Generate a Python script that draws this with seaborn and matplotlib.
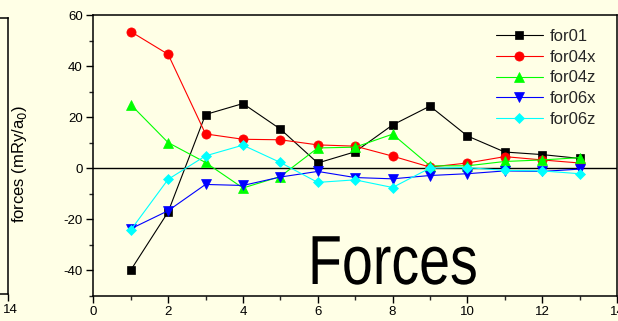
import matplotlib
matplotlib.use("Agg")
import matplotlib.pyplot as plt
from matplotlib.ticker import MultipleLocator
from matplotlib.patheffects import AbstractPathEffect
from matplotlib.transforms import Affine2D, ScaledTranslation
import seaborn as sns
import pandas as pd

sns.set_theme(style="ticks")
plt.rcParams['font.family'] = ['Liberation Sans', 'DejaVu Sans']
plt.rcParams['axes.unicode_minus'] = False

# ---- data ----
steps = [1, 2, 3, 4, 5, 6, 7, 8, 9, 10, 11, 12, 13]
for01 = [-40.0, -17.2, 21.0, 25.3, 15.3, 2.0, 6.4, 16.9, 24.3, 12.6, 6.3, 5.3, 3.8]
for04x = [53.5, 44.6, 13.4, 11.3, 11.1, 9.1, 8.6, 4.7, 0.4, 2.0, 4.5, 3.2, 2.0]
for04z = [24.9, 10.0, 2.2, -7.8, -3.3, 7.9, 8.2, 13.3, 0.9, 0.9, 2.6, 3.2, 4.1]
for06x = [-23.8, -16.7, -6.4, -6.8, -3.5, -1.3, -3.7, -4.2, -2.9, -2.2, -1.1, -1.3, -0.4]
for06z = [-24.3, -4.4, 4.8, 9.0, 2.2, -5.6, -4.6, -7.6, 0.0, 0.2, -0.9, -1.1, -2.2]
series_names = ["for01", "for04x", "for04z", "for06x", "for06z"]
series_values = [for01, for04x, for04z, for06x, for06z]
x_ticks = [0, 2, 4, 6, 8, 10, 12, 14]
y_ticks = [-40, -20, 0, 20, 40, 60]
left_panel_ticks = [14]
y_label = "forces (mRy/a$_0$)"
big_title = "Forces"

colors = ["#000000", "#FF0000", "#00FF00", "#0000FF", "#00FFFF"]
markers = ["s", "o", "^", "v", "D"]
msizes = [5.6, 6.6, 7.2, 7.2, 5.6]

bg = "#FFFFE6"
W, H = 618, 321


class Condense(AbstractPathEffect):
    """Horizontally condense a text's glyphs about a fixed x (display px)."""
    def __init__(self, sx, x0):
        super().__init__()
        self.sx = sx
        self.x0 = x0

    def draw_path(self, renderer, gc, tpath, affine, rgbFace=None):
        t = affine + Affine2D().translate(-self.x0, 0).scale(self.sx, 1).translate(self.x0, 0)
        renderer.draw_path(gc, tpath, t, rgbFace)


fig = plt.figure(figsize=(W / 100, H / 100), dpi=100, facecolor=bg)

ax = fig.add_axes([93.3 / W, 1 - 295.7 / H, (617 - 93.3) / W, (295.7 - 15) / H])
ax.set_facecolor(bg)

for name, vals, c, m, ms in zip(series_names, series_values, colors, markers, msizes):
    df = pd.DataFrame({"step": steps, "force": vals})
    sns.lineplot(data=df, x="step", y="force", ax=ax, color=c, marker=m,
                 markersize=ms, markeredgecolor=c, markeredgewidth=0.5,
                 linewidth=0.8, label=name, zorder=3)

ax.axhline(0, color="black", linewidth=1.0, zorder=2)

ax.set_xlim(0, 14)
ax.set_ylim(-50, 60)
ax.set_xticks(x_ticks)
ax.set_yticks(y_ticks)
ax.xaxis.set_minor_locator(MultipleLocator(1))
ax.yaxis.set_minor_locator(MultipleLocator(10))
ax.tick_params(which="major", direction="out", length=5, width=1.0, labelsize=9.5,
               colors="black", pad=2.5)
ax.tick_params(which="minor", direction="out", length=3, width=1.0)
for s in ax.spines.values():
    s.set_visible(True)
    s.set_linewidth(1.1)
    s.set_color("black")
ax.set_xlabel("")
ax.set_ylabel(y_label, fontsize=12, color="black")
ax.yaxis.label.set_va("center")
ax.yaxis.set_label_coords((20 - 93.3) / (617 - 93.3), 0.5 - (164 - 155.4) / (295.7 - 15))

handles, labels = ax.get_legend_handles_labels()
leg = ax.legend(handles, labels, loc="upper left",
                bbox_to_anchor=(496 / W, 1 - 29 / H), bbox_transform=fig.transFigure,
                frameon=False, fontsize=12, handlelength=2.8, handletextpad=0.4,
                labelspacing=0.34, borderpad=0, borderaxespad=0)

x_forces = 308
fig.text(x_forces / W, 1 - 284 / H, big_title, fontsize=50,
         family=["Liberation Sans", "DejaVu Sans"],
         ha="left", va="baseline", color="black",
         path_effects=[Condense(0.8, x_forces)])

# partial neighbouring panel at the left edge (only its right end is visible)
ax0 = fig.add_axes([(8.3 - 523.7) / W, 1 - 294 / H, 523.7 / W, (294 - 18) / H])
ax0.set_facecolor(bg)
ax0.set_xlim(0, 14)
ax0.set_xticks(left_panel_ticks)
ax0.set_yticks([])
ax0.tick_params(which="major", direction="out", length=5, width=1.0, labelsize=9.5,
                colors="black", pad=2.5)
for s in ax0.spines.values():
    s.set_linewidth(1.1)
    s.set_color("black")
shift = ScaledTranslation(2.5 / 100, 0, fig.dpi_scale_trans)
for lbl in ax0.get_xticklabels():
    lbl.set_transform(lbl.get_transform() + shift)

fig.savefig("out.png", dpi=100, facecolor=bg)
